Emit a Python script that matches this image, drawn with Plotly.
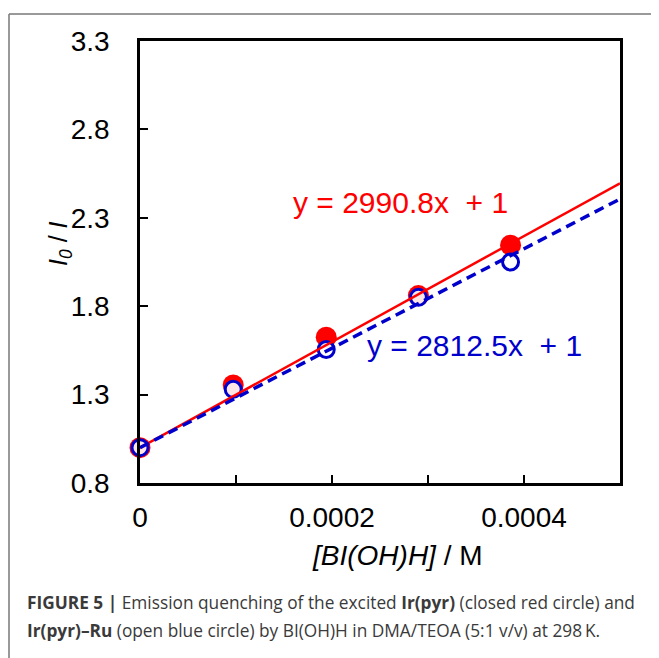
import plotly.graph_objects as go

# ---- data ----
conc = [0.0, 0.0000971, 0.000194, 0.00029, 0.000386]          # [BI(OH)H] / M
ir_pyr = [1.0, 1.355, 1.625, 1.86, 2.145]                     # closed red circles
ir_pyr_ru = [1.0, 1.33, 1.555, 1.85, 2.05]                    # open blue circles

fit_x = [0.0, 0.0005]
fit_red = [1.0, 2.4954]      # y = 2990.8x + 1
fit_blue = [1.0, 2.40625]    # y = 2812.5x + 1

x_tickvals = [0.0, 0.0001, 0.0002, 0.0003, 0.0004, 0.0005]
x_ticktext = ["0", "", "0.0002", "", "0.0004", ""]
y_tickvals = [0.8, 1.3, 1.8, 2.3, 2.8, 3.3]
y_ticktext = ["0.8", "1.3", "1.8", "2.3", "2.8", "3.3"]

RED = "#FF0000"
BLUE = "#0000CC"
FONT = "Arial, Liberation Sans, sans-serif"
CAP_FONT = "Open Sans, Arial, sans-serif"

OFF = 8                      # page body margin
W, H = 659 - OFF, 658 - OFF
L, R, T, B = 140, 620, 41, 483   # plot area in screen pixels


def px(x):
    return (x - L) / (R - L)


def py(y):
    return (B - y) / (B - T)


fig = go.Figure()
fig.add_trace(go.Scatter(x=conc, y=ir_pyr, mode="markers", cliponaxis=False,
                         marker=dict(color=RED, size=21, line=dict(width=0)),
                         showlegend=False))
fig.add_trace(go.Scatter(x=conc, y=ir_pyr_ru, mode="markers", cliponaxis=False,
                         marker=dict(color="rgba(255,255,255,0.9)", size=16,
                                     line=dict(color=BLUE, width=3)),
                         showlegend=False))
fig.add_trace(go.Scatter(x=fit_x, y=fit_red, mode="lines",
                         line=dict(color=RED, width=2.5), showlegend=False))
fig.add_trace(go.Scatter(x=fit_x, y=fit_blue, mode="lines",
                         line=dict(color=BLUE, width=3.5, dash="10px,6px"),
                         showlegend=False))

common = dict(ticks="inside", ticklen=8, tickwidth=2, tickcolor="black",
              showline=True, linecolor="black", linewidth=2.5, mirror=True,
              showgrid=False, zeroline=False,
              tickfont=dict(family=FONT, size=28, color="black"))
fig.update_xaxes(range=[0, 0.0005], tickmode="array", tickvals=x_tickvals,
                 ticktext=x_ticktext, ticklabelstandoff=8, **common)
fig.update_yaxes(range=[0.8, 3.3], tickmode="array", tickvals=y_tickvals,
                 ticktext=y_ticktext, ticklabelstandoff=22, **common)

annotations = [
    dict(x=px(400), y=py(202), text="y = 2990.8x  + 1",
         font=dict(family=FONT, size=30, color=RED)),
    dict(x=px(474), y=py(345), text="y = 2812.5x  + 1",
         font=dict(family=FONT, size=30, color=BLUE)),
    dict(x=px(397), y=py(555), text="<i>[BI(OH)H]</i> / M",
         font=dict(family=FONT, size=28, color="black")),
    dict(x=px(60), y=py(244), text="<i>I<sub>0</sub></i> / <i>I</i>",
         textangle=-90, font=dict(family=FONT, size=25, color="black")),
    dict(x=px(25), y=py(602), xanchor="left",
         text="<b>FIGURE 5 |</b> Emission quenching of the excited <b>Ir(pyr)</b> (closed red circle) and",
         font=dict(family=CAP_FONT, size=17.3, color="#3a3a3a")),
    dict(x=px(25), y=py(630), xanchor="left",
         text="<b>Ir(pyr)–Ru</b> (open blue circle) by BI(OH)H in DMA/TEOA (5:1 v/v) at 298\u2009K.",
         font=dict(family=CAP_FONT, size=17.3, color="#3a3a3a")),
]
for a in annotations:
    a.setdefault("xanchor", "center")
    a.setdefault("yanchor", "middle")
    a.update(xref="paper", yref="paper", showarrow=False)

shapes = [
    dict(type="line", xref="paper", yref="paper", x0=px(9), x1=px(659),
         y0=py(14), y1=py(14), line=dict(color="#777777", width=1.5)),
    dict(type="line", xref="paper", yref="paper", x0=px(9), x1=px(9),
         y0=py(14), y1=py(658), line=dict(color="#777777", width=1.5)),
]

fig.update_layout(width=W, height=H, autosize=False,
                  margin=dict(l=L - OFF, r=659 - R, t=T - OFF, b=658 - B, pad=0),
                  paper_bgcolor="white", plot_bgcolor="white",
                  annotations=annotations, shapes=shapes, showlegend=False)

fig.write_html("out.html")
